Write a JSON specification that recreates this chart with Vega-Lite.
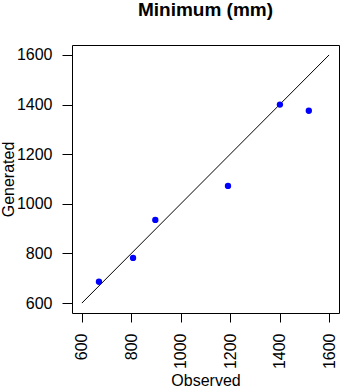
{
  "$schema": "https://vega.github.io/schema/vega-lite/v6.json",
  "autosize": "none",
  "width": 267,
  "height": 268,
  "padding": {"left": 72, "top": 45, "right": 1, "bottom": 74},
  "background": "white",
  "config": {
    "view": {"stroke": "black", "strokeWidth": 1},
    "font": "Liberation Sans",
    "axis": {
      "domain": false,
      "grid": false,
      "tickColor": "black",
      "tickWidth": 1,
      "labelColor": "black",
      "labelFont": "Liberation Sans",
      "labelFontSize": 16,
      "titleColor": "black",
      "titleFont": "Liberation Sans",
      "titleFontSize": 16,
      "titleFontWeight": "normal"
    }
  },
  "title": {
    "text": "Minimum (mm)",
    "font": "Liberation Sans",
    "fontSize": 19,
    "fontWeight": "bold",
    "color": "black",
    "anchor": "middle",
    "baseline": "alphabetic",
    "offset": 10
  },
  "datasets": {
    "pts": [
      {"observed": 669, "generated": 686},
      {"observed": 807, "generated": 782},
      {"observed": 897, "generated": 935},
      {"observed": 1191, "generated": 1072},
      {"observed": 1401, "generated": 1400},
      {"observed": 1518, "generated": 1375}
    ],
    "line": [
      {"observed": 600, "generated": 600},
      {"observed": 1600, "generated": 1600}
    ]
  },
  "layer": [
    {
      "data": {"name": "line"},
      "mark": {"type": "line", "color": "black", "strokeWidth": 1, "clip": true},
      "encoding": {
        "x": {"field": "observed", "type": "quantitative"},
        "y": {"field": "generated", "type": "quantitative"}
      }
    },
    {
      "data": {"name": "pts"},
      "mark": {"type": "circle", "color": "#0000FF", "opacity": 1, "size": 40},
      "encoding": {
        "x": {
          "field": "observed",
          "type": "quantitative",
          "scale": {"domain": [560, 1640], "nice": false, "zero": false},
          "axis": {
            "title": "Observed",
            "values": [600, 800, 1000, 1200, 1400, 1600],
            "format": "d",
            "tickSize": 9,
            "labelAngle": -90,
            "labelAlign": "right",
            "labelBaseline": "middle",
            "labelPadding": 11,
            "titleX": 133.5,
            "titleY": 72,
            "titleBaseline": "alphabetic",
            "titleAlign": "center"
          }
        },
        "y": {
          "field": "generated",
          "type": "quantitative",
          "scale": {"domain": [560, 1640], "nice": false, "zero": false},
          "axis": {
            "title": "Generated",
            "values": [600, 800, 1000, 1200, 1400, 1600],
            "format": "d",
            "tickSize": 10,
            "labelPadding": 10,
            "labelBaseline": "middle",
            "titleAngle": -90,
            "titleX": -59,
            "titleY": 134,
            "titleAlign": "center",
            "titleBaseline": "alphabetic"
          }
        }
      }
    }
  ]
}
